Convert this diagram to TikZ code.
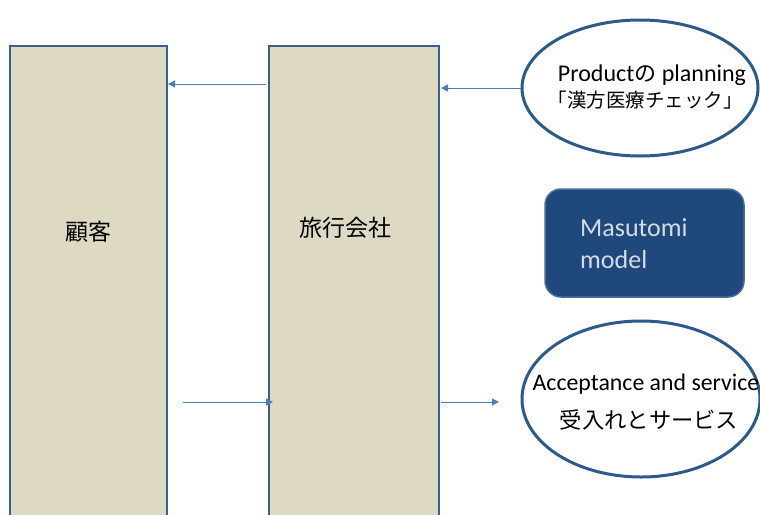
\documentclass[tikz,border=0pt]{standalone}
\usepackage{fontspec}
\setmainfont{Carlito}
\newfontfamily\cjk{Noto Sans CJK JP}
\usetikzlibrary{shapes.geometric,arrows.meta}
\definecolor{boxfill}{HTML}{DDD9C3}
\definecolor{boxedge}{HTML}{3A5F8E}
\definecolor{elledge}{HTML}{2C5A8C}
\definecolor{arrowcol}{HTML}{4A7EBB}
\definecolor{modelfill}{HTML}{1F497D}
\definecolor{modeledge}{HTML}{4A6E9A}
\definecolor{modeltext}{HTML}{D6DCE4}
\tikzset{
  x=1pt,y=-1pt,
  colbox/.style={draw=boxedge,line width=2.5pt,fill=boxfill},
  ell/.style={ellipse,draw=elledge,line width=3pt,fill=white,inner sep=0pt},
  conn/.style={draw=arrowcol,line width=1pt,-{Triangle[length=7pt,width=7pt]}},
}
\begin{document}
\begin{tikzpicture}
\useasboundingbox (0,0) rectangle (760,514);
\clip (0,0) rectangle (760,514);
\fill[white] (0,0) rectangle (760,514);
% columns
\draw[colbox] (10,46) rectangle (167,530);
\draw[colbox] (269,46) rectangle (439,530);
\node (kokyaku) at (88,232) {\cjk\fontsize{23}{26}\selectfont 顧客};
\node (ryoko) at (345,228) {\cjk\fontsize{23}{26}\selectfont 旅行会社};
\coordinate (lbTop) at (168,84);
\coordinate (mbTopL) at (266,84);
\coordinate (mbTopR) at (441,88);
\coordinate (lbBot) at (183,402);
\coordinate (mbBotL) at (273,402);
\coordinate (mbBotR) at (441,402);
\coordinate (ellBotL) at (499,402);
% ellipses
\node[ell,minimum width=236pt,minimum height=136pt] (prod) at (640,88) {};
\node (prodt1) at (652,75) {\fontsize{24}{26}\selectfont Product{\cjk\fontsize{22}{26}\selectfont の} planning};
\node (prodt2) at (645,100) {\cjk\fontsize{19.5}{22}\selectfont 「漢方医療チェック」};
\node[ell,minimum width=238pt,minimum height=156pt] (acc) at (641,399) {};
\node (acct1) at (646,384) {\fontsize{23.8}{26}\selectfont Acceptance and service};
\node (acct2) at (649,420) {\cjk\fontsize{22.3}{25}\selectfont 受入れとサービス};
% model box
\draw[draw=modeledge,line width=1.5pt,fill=modelfill,rounded corners=16pt] (545,189) rectangle (744,297);
\node[anchor=west,text=modeltext,align=left,font=\fontsize{26}{32}\selectfont,inner sep=0pt] (model) at (580,244) {Masutomi\\model};
% arrows
\draw[conn] (mbTopL) -- (lbTop);
\draw[conn] (prod.west |- mbTopR) -- (mbTopR);
\draw[conn] (lbBot) -- (mbBotL);
\draw[conn] (mbBotR) -- (ellBotL);
\end{tikzpicture}
\end{document}
